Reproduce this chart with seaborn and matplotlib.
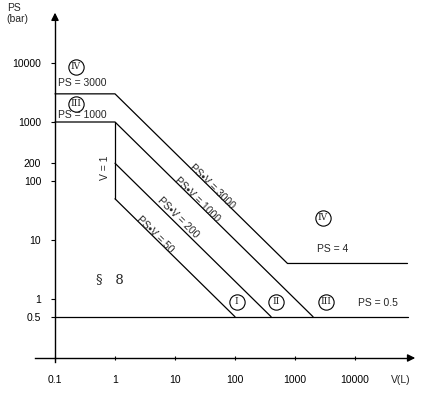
import numpy as np
import pandas as pd
import matplotlib
matplotlib.use('Agg')
import matplotlib.pyplot as plt
import seaborn as sns

# boundary lines of the categories (V in L, PS in bar)
ps3000_V = [0.1, 1, 750, 75000]
ps3000_PS = [3000, 3000, 4, 4]
ps1000_V = [0.1, 1, 2000]
ps1000_PS = [1000, 1000, 0.5]
v1_V = [1, 1]
v1_PS = [1000, 50]
psv200_V = [1, 400]
psv200_PS = [200, 0.5]
psv50_V = [1, 100]
psv50_PS = [50, 0.5]
ps05_V = [0.1, 75000]
ps05_PS = [0.5, 0.5]

y_ticks = [10000, 1000, 200, 100, 10, 1, 0.5]
y_ticklabels = ['10000', '1000', '200', '100', '10', '1', '0.5']
x_ticks = [0.1, 1, 10, 100, 1000, 10000]
x_ticklabels = ['0.1', '1', '10', '100', '1000', '10000']

segs = [(ps3000_V, ps3000_PS), (ps1000_V, ps1000_PS), (v1_V, v1_PS),
        (psv200_V, psv200_PS), (psv50_V, psv50_PS), (ps05_V, ps05_PS)]
rows = []
for i, (vv, pp) in enumerate(segs):
    for v, p in zip(vv, pp):
        rows.append({'seg': i, 'V': v, 'PS': p})
lines = pd.DataFrame(rows)

sns.set_theme(style='white')
plt.rcParams['font.family'] = ['Liberation Sans', 'DejaVu Sans']

W, H = 430, 395
fig = plt.figure(figsize=(W / 100, H / 100), dpi=100)
# axes box in pixels: x 35..425, y 8..365 (from top)
ax = fig.add_axes([35 / W, (H - 365) / H, 390 / W, 357 / H])
ax.set_xscale('log')
ax.set_yscale('log')
ax.set_xlim(10 ** (-1 + (35 - 55) / 60), 10 ** (-1 + (425 - 55) / 60))
ax.set_ylim(10 ** ((299 - 365) / 59), 10 ** ((299 - 8) / 59))

sns.lineplot(data=lines, x='V', y='PS', units='seg', estimator=None, sort=False,
             color='black', lw=0.9, ax=ax, legend=False)

# axes as arrows through (0.1, 0.1)
for s in ['top', 'right']:
    ax.spines[s].set_visible(False)
ax.spines['left'].set_position(('data', 0.1))
ax.spines['bottom'].set_position(('data', 0.1))
ax.spines['left'].set_bounds(0.085, 10 ** 4.8)
ax.spines['bottom'].set_bounds(10 ** -1.333, 10 ** 4.9)
for s in ['left', 'bottom']:
    ax.spines[s].set_color('black')
    ax.spines[s].set_linewidth(1.0)
ax.annotate('', xy=(0.1, 10 ** 4.9), xytext=(0.1, 10 ** 4.7), annotation_clip=False,
            arrowprops=dict(arrowstyle='-|>', color='black', lw=1.0, mutation_scale=11))
ax.annotate('', xy=(10 ** 5.05, 0.1), xytext=(10 ** 4.85, 0.1), annotation_clip=False,
            arrowprops=dict(arrowstyle='-|>', color='black', lw=1.0, mutation_scale=11))

ax.set_xticks(x_ticks)
ax.set_xticklabels(x_ticklabels)
ax.set_yticks(y_ticks)
ax.set_yticklabels(y_ticklabels)
ax.minorticks_off()
ax.tick_params(axis='x', bottom=True, length=3, width=0.8, color='black',
               direction='inout', pad=11, labelsize=7.5, labelcolor='black')
ax.tick_params(axis='y', left=True, length=3, width=0.8, color='black',
               pad=7, labelsize=7.5, labelcolor='black')
ax.set_xlabel('')
ax.set_ylabel('')
ax.grid(False)

fig.text(14 / W, 1 - 8 / H, 'PS', ha='center', va='center', fontsize=7.5)
fig.text(17 / W, 1 - 19 / H, '(bar)', ha='center', va='center', fontsize=7.5)
fig.text(401 / W, 1 - 380 / H, 'V(L)', ha='center', va='center', fontsize=7.5)

# slanted labels along PS*V lines
p1 = ax.transData.transform((1, 1000))
p2 = ax.transData.transform((1000, 1))
ang = np.degrees(np.arctan2(p2[1] - p1[1], p2[0] - p1[0]))
for txt, v, p in [('PS•V = 3000', 41, 82), ('PS•V = 1000', 23, 48),
                  ('PS•V = 200', 11.2, 23.6), ('PS•V = 50', 4.6, 12.2)]:
    ax.text(v, p, txt, rotation=ang, rotation_mode='anchor', ha='center',
            va='center', fontsize=7.5)
ax.text(0.68, 166, 'V = 1', rotation=90, ha='center', va='center', fontsize=7.5)

ax.text(0.28, 4500, 'PS = 3000', ha='center', va='center', fontsize=7.5)
ax.text(0.29, 1330, 'PS = 1000', ha='center', va='center', fontsize=7.5)
ax.text(4170, 7.0, 'PS = 4', ha='center', va='center', fontsize=7.5)
ax.text(24000, 0.86, 'PS = 0.5', ha='center', va='center', fontsize=7.5)

# circled category numerals
for txt, v, p in [('IV', 0.224, 8600), ('III', 0.224, 2050), ('IV', 2930, 23.6),
                  ('I', 107, 0.89), ('II', 480, 0.89), ('III', 3300, 0.89)]:
    ax.plot([v], [p], marker='o', ms=11, mfc='white', mec='black', mew=0.8)
    ax.text(v, p, txt, ha='center', va='center', fontsize=6.5,
            family='DejaVu Serif')

ax.text(0.83, 2.1, '§   8', ha='center', va='center', fontsize=9.5,
        family='DejaVu Serif')

fig.savefig('out.png', dpi=100)
